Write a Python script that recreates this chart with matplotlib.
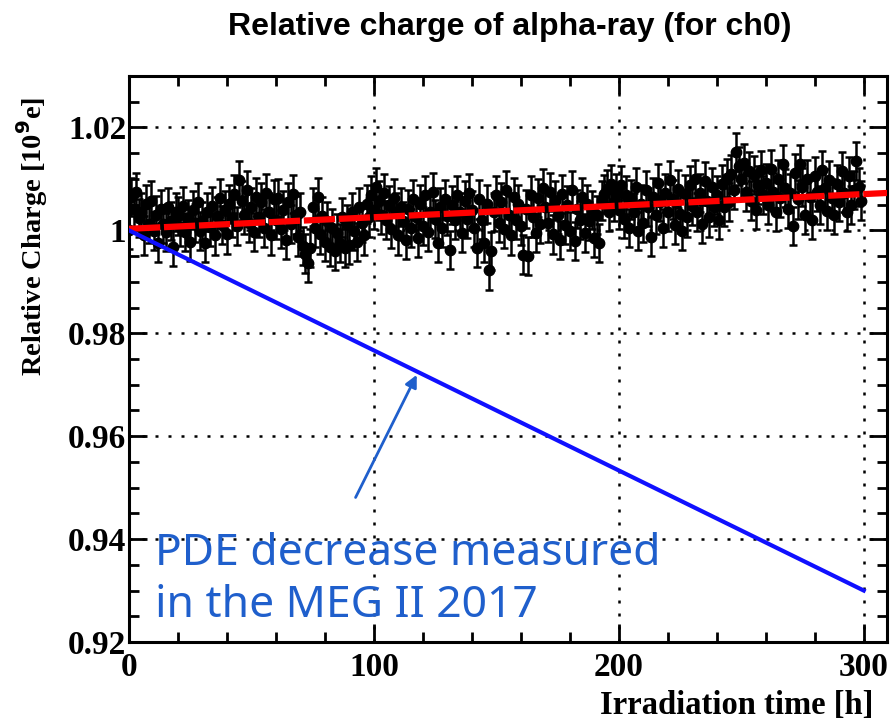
import numpy as np
import matplotlib
matplotlib.use('Agg')
import matplotlib.pyplot as plt
from matplotlib.ticker import MultipleLocator, FuncFormatter

# relative charge, one point per hour (0..299 h)
charge = [
    1.0000, 1.0065, 1.0042, 1.0075, 1.0024, 1.0035, 0.9990, 1.0052, 1.0012, 1.0058,
    0.9998, 1.0030, 0.9975, 1.0042, 1.0012, 0.9996, 1.0045, 1.0018, 0.9968, 1.0035,
    1.0028, 1.0006, 1.0048, 0.9996, 1.0022, 0.9978, 1.0040, 1.0014, 1.0055, 0.9998,
    1.0018, 0.9975, 1.0035, 1.0006, 1.0048, 0.9990, 1.0028, 1.0062, 1.0010, 1.0040,
    0.9992, 1.0052, 1.0024, 1.0070, 1.0008, 1.0098, 1.0058, 1.0030, 1.0078, 1.0015,
    1.0045, 0.9996, 1.0065, 1.0025, 1.0055, 1.0004, 1.0072, 1.0035, 0.9990, 1.0060,
    1.0020, 1.0062, 1.0002, 1.0040, 0.9982, 1.0055, 1.0012, 1.0070, 1.0030, 0.9988,
    1.0035, 0.9970, 0.9955, 0.9936, 0.9965, 1.0045, 1.0005, 1.0065, 0.9992, 1.0028,
    0.9978, 1.0018, 0.9968, 1.0004, 0.9960, 0.9994, 0.9975, 1.0025, 0.9965, 1.0012,
    0.9972, 1.0035, 0.9998, 0.9978, 1.0045, 1.0014, 0.9990, 1.0052, 1.0025, 1.0068,
    1.0040, 1.0085, 1.0058, 1.0030, 1.0072, 1.0020, 1.0050, 1.0002, 1.0062, 1.0035,
    0.9990, 1.0045, 1.0018, 0.9982, 1.0042, 1.0004, 1.0060, 1.0025, 0.9985, 1.0052,
    1.0008, 1.0068, 0.9996, 1.0035, 1.0075, 1.0022, 0.9975, 1.0045, 1.0005, 1.0060,
    1.0028, 0.9962, 1.0050, 1.0020, 1.0068, 1.0035, 0.9995, 1.0058, 1.0022, 1.0072,
    1.0040, 1.0005, 0.9965, 1.0060, 1.0020, 0.9975, 1.0052, 0.9922, 0.9960, 1.0035,
    1.0068, 1.0015, 1.0055, 1.0002, 1.0078, 1.0030, 0.9990, 1.0065, 1.0020, 1.0052,
    1.0008, 0.9953, 1.0042, 0.9950, 1.0068, 1.0025, 0.9995, 1.0062, 1.0012, 1.0082,
    1.0045, 1.0015, 1.0075, 0.9992, 1.0058, 1.0030, 0.9982, 1.0070, 1.0010, 1.0050,
    0.9998, 1.0078, 0.9980, 1.0042, 1.0020, 1.0065, 0.9995, 1.0052, 1.0018, 1.0040,
    0.9985, 1.0030, 0.9975, 1.0058, 1.0070, 1.0080, 1.0035, 1.0090, 1.0055, 1.0072,
    1.0040, 1.0088, 1.0022, 1.0068, 1.0005, 1.0060, 1.0035, 1.0085, 0.9998, 1.0052,
    1.0015, 1.0078, 1.0045, 0.9988, 1.0065, 1.0030, 1.0092, 1.0055, 1.0005, 1.0072,
    1.0035, 1.0098, 1.0060, 1.0010, 1.0080, 1.0032, 0.9998, 1.0070, 1.0025, 1.0088,
    1.0048, 1.0100, 1.0035, 1.0072, 1.0012, 1.0095, 1.0058, 1.0025, 1.0085, 1.0045,
    1.0068, 1.0020, 1.0090, 1.0045, 1.0102, 1.0055, 1.0110, 1.0078, 1.0153, 1.0125,
    1.0100, 1.0130, 1.0075, 1.0115, 1.0058, 1.0108, 1.0040, 1.0088, 1.0118, 1.0068,
    1.0092, 1.0050, 1.0120, 1.0075, 1.0035, 1.0100, 1.0062, 1.0128, 1.0082, 1.0042,
    1.0072, 1.0008, 1.0112, 1.0060, 1.0128, 1.0085, 1.0030, 1.0100, 1.0065, 1.0020,
    1.0105, 1.0075, 1.0050, 1.0118, 1.0082, 1.0038, 1.0098, 1.0062, 1.0030, 1.0090,
    1.0055, 1.0115, 1.0072, 1.0035, 1.0105, 1.0050, 1.0078, 1.0135, 1.0085, 1.0058,
]
hours = np.arange(len(charge))
charge_err = 0.0037

# linear fit
fit_p0 = 1.0003
fit_p1 = 2.25e-5
fit_x = [0, 310]

# PDE decrease from MEG II 2017
pde_x = [0, 300]
pde_y = [1.0, 0.93]

fig = plt.figure(figsize=(8.91, 7.21), dpi=100)
ax = fig.add_axes([0.1448, 0.1096, 0.8507, 0.785])

ax.errorbar(hours, charge, yerr=charge_err, fmt='o', color='black', ms=7.5,
            elinewidth=1.8, capsize=2.8, capthick=1.8, zorder=3)
ax.plot(fit_x, [fit_p0 + fit_p1 * x for x in fit_x], color='red', lw=4.5,
        ls=(0, (5, 0.6)), zorder=4)
ax.plot(pde_x, pde_y, color='#1010ff', lw=3, zorder=5)

ax.annotate('', xy=(118, 0.9724), xytext=(92, 0.9476),
            arrowprops=dict(arrowstyle='-|>', color='#1f5fcc', lw=2,
                            mutation_scale=18), zorder=6)
tfont = dict(family='Noto Sans', fontsize=32, color='#1f5fcc')
ax.text(10.5, 0.9350, 'PDE decrease measured', va='baseline', **tfont)
ax.text(10.5, 0.9249, 'in the MEG II 2017', va='baseline', **tfont)

ax.set_xlim(0, 309.5)
ax.set_ylim(0.92, 1.03)
ax.xaxis.set_major_locator(MultipleLocator(100))
ax.xaxis.set_minor_locator(MultipleLocator(20))
ax.yaxis.set_major_locator(MultipleLocator(0.02))
ax.yaxis.set_minor_locator(MultipleLocator(0.005))
ax.yaxis.set_major_formatter(FuncFormatter(lambda v, p: '%g' % round(v, 4)))
ax.grid(which='major', color='black', ls=(0, (1.2, 4)), lw=1.8)

ax.tick_params(which='both', direction='in', top=True, right=True, width=2)
ax.tick_params(which='major', length=13)
ax.tick_params(which='minor', length=7)
ax.tick_params(axis='y', pad=2)
ax.tick_params(axis='x', pad=7)
for lab in ax.get_xticklabels() + ax.get_yticklabels():
    lab.set_family('Liberation Serif')
    lab.set_weight('bold')
    lab.set_fontsize(24)
for s in ax.spines.values():
    s.set_linewidth(2.2)

ax.set_xlabel('Irradiation time [h]', ha='right', va='center', fontsize=23.5,
              family='Liberation Serif', weight='bold')
ax.xaxis.set_label_coords(0.982, -0.112)
ax.set_ylabel(r'Relative Charge [10$^{\mathbf{9}}$e]', ha='right', va='center', fontsize=20.5,
              family='Liberation Serif', weight='bold')
ax.yaxis.set_label_coords(-0.128, 0.963)
fig.text(0.572, 0.962, 'Relative charge of alpha-ray (for ch0)', ha='center', va='center',
         family='Liberation Sans', weight='bold', fontsize=23)

fig.savefig('out.png', dpi=100)
